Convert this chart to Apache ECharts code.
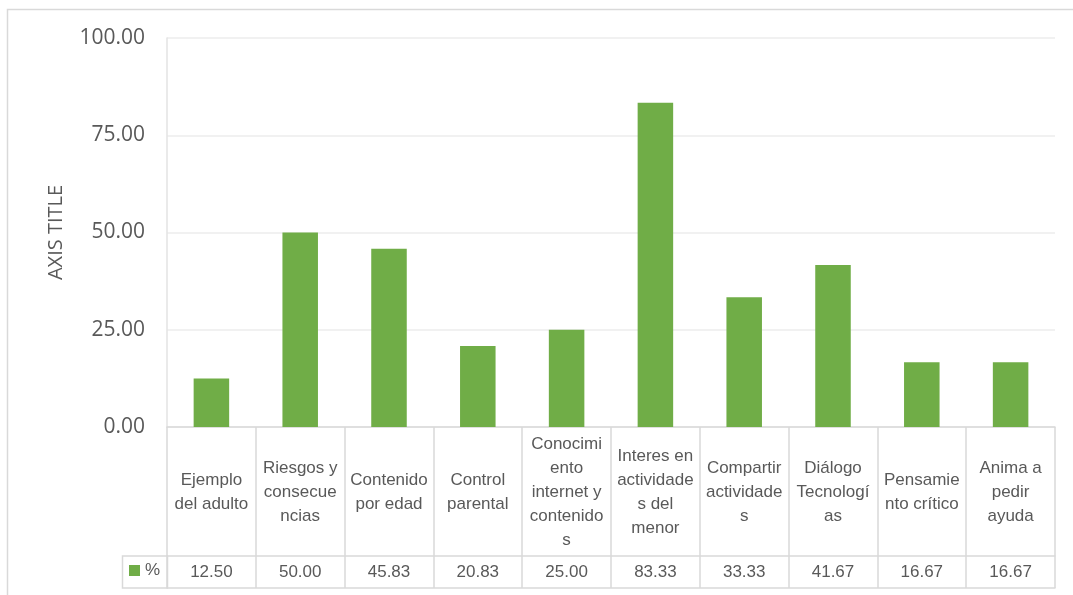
<!DOCTYPE html>
<html>
<head>
<meta charset="utf-8">
<script src="https://cdn.jsdelivr.net/npm/echarts@6/dist/echarts.min.js"></script>
<style>
html,body{margin:0;padding:0;background:#fff;}
#main{width:1073px;height:595px;}
</style>
</head>
<body>
<div id="main"></div>
<script>
const categories = [
  "Ejemplo\ndel adulto",
  "Riesgos y\nconsecue\nncias",
  "Contenido\npor edad",
  "Control\nparental",
  "Conocimi\nento\ninternet y\ncontenido\ns",
  "Interes en\nactividade\ns del\nmenor",
  "Compartir\nactividade\ns",
  "Diálogo\nTecnologí\nas",
  "Pensamie\nnto crítico",
  "Anima a\npedir\nayuda"
];
const values = [12.50, 50.00, 45.83, 20.83, 25.00, 83.33, 33.33, 41.67, 16.67, 16.67];
const seriesName = "%";
const yTicks = { min: 0, max: 100, interval: 25 };
const yAxisTitle = "AXIS TITLE";

const chart = echarts.init(document.getElementById('main'), null, { renderer: 'canvas' });
const textColor = '#595959';
const lineColor = '#d9d9d9';
const tableFont = "'Liberation Sans', Arial, sans-serif";
const axisFont = "'Open Sans', sans-serif";

chart.setOption({
  animation: false,
  backgroundColor: '#fff',
  grid: { left: 167, right: 18, top: 38, bottom: 168, containLabel: false },
  legend: {
    data: [seriesName],
    left: 129, top: 562, padding: 0,
    icon: 'rect', itemWidth: 11, itemHeight: 11,
    textStyle: { color: textColor, fontSize: 17, fontFamily: tableFont },
    selectedMode: false
  },
  xAxis: [
    {
      type: 'category', data: categories, position: 'bottom',
      axisLine: { show: true, onZero: false, lineStyle: { color: lineColor, width: 1.5 } },
      axisTick: { show: true, length: 161, interval: 0, lineStyle: { color: lineColor, width: 1.5 } },
      axisLabel: { interval: 0, margin: 65, verticalAlign: 'middle', align: 'center', lineHeight: 24,
        fontSize: 17, fontFamily: tableFont, color: textColor }
    },
    {
      type: 'category', data: categories, position: 'bottom',
      axisLine: { show: false, onZero: false }, axisTick: { show: false },
      axisLabel: { interval: 0, margin: 145, verticalAlign: 'middle', fontSize: 17, fontFamily: tableFont, color: textColor,
        formatter: function (v, i) { return values[i].toFixed(2); } }
    },
    {
      type: 'category', data: categories, position: 'bottom', offset: 129,
      axisLine: { show: true, onZero: false, lineStyle: { color: lineColor, width: 1.5 } },
      axisTick: { show: false }, axisLabel: { show: false }
    },
    {
      type: 'category', data: categories, position: 'bottom', offset: 161,
      axisLine: { show: true, onZero: false, lineStyle: { color: lineColor, width: 1.5 } },
      axisTick: { show: false }, axisLabel: { show: false }
    }
  ],
  yAxis: {
    type: 'value', min: yTicks.min, max: yTicks.max, interval: yTicks.interval,
    name: yAxisTitle, nameLocation: 'middle', nameGap: 101, nameRotate: 90,
    nameTextStyle: { color: textColor, fontSize: 20, fontFamily: axisFont },
    axisLine: { show: true, lineStyle: { color: '#e3e3e3', width: 1.5 } },
    axisTick: { show: false },
    axisLabel: { margin: 22, fontSize: 21, fontFamily: axisFont, color: textColor,
      formatter: function (v) { return v.toFixed(2); } },
    splitLine: { lineStyle: { color: '#ececec', width: 1.5 } }
  },
  series: [{
    name: seriesName, type: 'bar', data: values, xAxisIndex: 0,
    barWidth: '40%',
    itemStyle: { color: '#70ad47' }
  }],
  graphic: [
    { type: 'polyline', shape: { points: [[7.5, 600], [7.5, 9.5], [1080, 9.5]] },
      style: { stroke: lineColor, lineWidth: 1.5, fill: null }, silent: true },
    { type: 'rect', shape: { x: 122.5, y: 556, width: 45, height: 32 },
      style: { stroke: lineColor, lineWidth: 1.5, fill: null }, silent: true, z: -1 }
  ]
});
</script>
</body>
</html>
